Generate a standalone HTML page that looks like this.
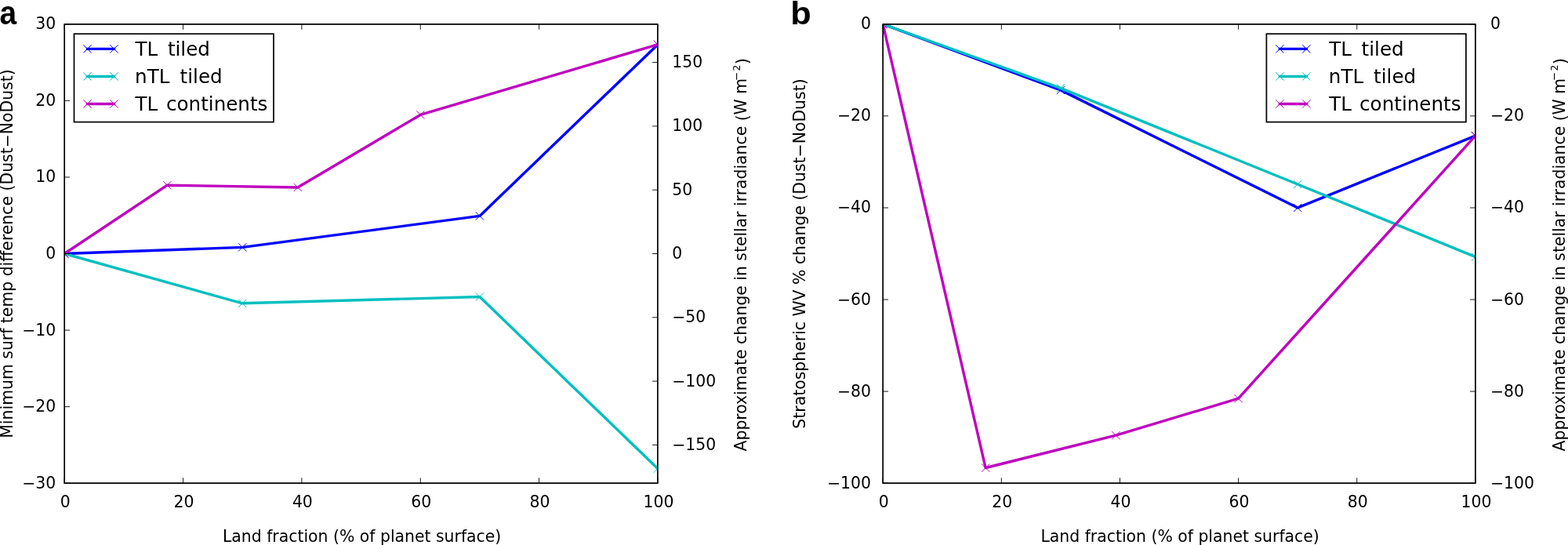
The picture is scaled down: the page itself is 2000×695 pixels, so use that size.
<!DOCTYPE html>
<html><head><meta charset="utf-8"><title>Figure</title><style>
html,body{margin:0;padding:0;background:#fff;width:2000px;height:695px;overflow:hidden}
svg{display:block}
.t{font-family:"DejaVu Sans","Liberation Sans",sans-serif;font-size:20.4px;fill:#000}
.lg{font-family:"DejaVu Sans","Liberation Sans",sans-serif;font-size:24.6px;fill:#000;white-space:pre}
.pl{font-family:"Liberation Sans",Arial,sans-serif;font-weight:bold;font-size:41px;fill:#000}
</style></head><body>
<svg width="2000" height="695" viewBox="0 0 2000 695">
<rect width="2000" height="695" fill="#fff"/>
<clipPath id="clipa"><rect x="82.2" y="30.8" width="756.7" height="585.4"/></clipPath>
<g clip-path="url(#clipa)">
<path d="M82.2,323.5 L309.21,315.4 L611.89,275.4 L838.9,56.85" fill="none" stroke="#0000ff" stroke-width="3.43" stroke-linejoin="round" stroke-linecap="square"/>
<path d="M77.06,318.36L87.34,328.64M77.06,328.64L87.34,318.36M304.07,310.26L314.35,320.54M304.07,320.54L314.35,310.26M606.75,270.26L617.03,280.54M606.75,280.54L617.03,270.26M833.76,51.71L844.04,61.99M833.76,61.99L844.04,51.71" fill="none" stroke="#0000ff" stroke-width="1.0"/>
<path d="M82.2,323.5 L309.21,386.82 L611.89,378.53 L838.9,597.66" fill="none" stroke="#00bfbf" stroke-width="3.43" stroke-linejoin="round" stroke-linecap="square"/>
<path d="M77.06,318.36L87.34,328.64M77.06,328.64L87.34,318.36M304.07,381.68L314.35,391.96M304.07,391.96L314.35,381.68M606.75,373.39L617.03,383.67M606.75,383.67L617.03,373.39M833.76,592.52L844.04,602.8M833.76,602.8L844.04,592.52" fill="none" stroke="#00bfbf" stroke-width="1.0"/>
<path d="M82.2,323.5 L213.34,236.18 L379.81,239.01 L536.22,146.42 L838.9,56.85" fill="none" stroke="#bf00bf" stroke-width="3.43" stroke-linejoin="round" stroke-linecap="square"/>
<path d="M77.06,318.36L87.34,328.64M77.06,328.64L87.34,318.36M208.2,231.04L218.48,241.32M208.2,241.32L218.48,231.04M374.67,233.87L384.95,244.15M374.67,244.15L384.95,233.87M531.08,141.28L541.36,151.56M531.08,151.56L541.36,141.28M833.76,51.71L844.04,61.99M833.76,61.99L844.04,51.71" fill="none" stroke="#bf00bf" stroke-width="1.0"/>
</g>
<path d="M82.2,616.2v-6.86M82.2,30.8v6.86M233.54,616.2v-6.86M233.54,30.8v6.86M384.88,616.2v-6.86M384.88,30.8v6.86M536.22,616.2v-6.86M536.22,30.8v6.86M687.56,616.2v-6.86M687.56,30.8v6.86M838.9,616.2v-6.86M838.9,30.8v6.86M82.2,616.2h6.86M82.2,518.63h6.86M82.2,421.07h6.86M82.2,323.5h6.86M82.2,225.93h6.86M82.2,128.37h6.86M82.2,30.8h6.86M838.9,567.42h-6.86M838.9,486.11h-6.86M838.9,404.81h-6.86M838.9,323.5h-6.86M838.9,242.19h-6.86M838.9,160.89h-6.86M838.9,79.58h-6.86" stroke="#000" stroke-width="0.9" fill="none"/>
<rect x="82.2" y="30.8" width="756.7" height="585.4" fill="none" stroke="#000" stroke-width="1.7" stroke-linejoin="round"/>
<text class="t" x="83.2" y="646.6" text-anchor="middle">0</text>
<text class="t" x="234.54" y="646.6" text-anchor="middle">20</text>
<text class="t" x="385.88" y="646.6" text-anchor="middle">40</text>
<text class="t" x="537.22" y="646.6" text-anchor="middle">60</text>
<text class="t" x="688.56" y="646.6" text-anchor="middle">80</text>
<text class="t" x="839.9" y="646.6" text-anchor="middle">100</text>
<text class="t" x="71.2" y="622.7" text-anchor="end">−30</text>
<text class="t" x="71.2" y="525.13" text-anchor="end">−20</text>
<text class="t" x="71.2" y="427.57" text-anchor="end">−10</text>
<text class="t" x="71.2" y="330" text-anchor="end">0</text>
<text class="t" x="71.2" y="232.43" text-anchor="end">10</text>
<text class="t" x="71.2" y="134.87" text-anchor="end">20</text>
<text class="t" x="71.2" y="37.3" text-anchor="end">30</text>
<text class="t" x="857.2" y="573.92">−150</text>
<text class="t" x="857.2" y="492.61">−100</text>
<text class="t" x="857.2" y="411.31">−50</text>
<text class="t" x="857.2" y="330">0</text>
<text class="t" x="857.2" y="248.69">50</text>
<text class="t" x="857.2" y="167.39">100</text>
<text class="t" x="857.2" y="86.08">150</text>
<text class="t" x="461.65" y="691.3" text-anchor="middle">Land fraction (% of planet surface)</text>
<text class="t" transform="translate(15.6,323.5) rotate(-90)" text-anchor="middle">Minimum surf temp difference (Dust−NoDust)</text>
<text class="t" style="font-size:20.35px" transform="translate(952.3,324.7) rotate(-90)" text-anchor="middle">Approximate change in stellar irradiance <tspan dy="1.6">(</tspan><tspan dy="-1.6">W m</tspan><tspan dx="-3.15" dy="-8.5" font-size="13.6">−</tspan><tspan dx="1.4" font-size="12.4">2</tspan><tspan dx="0.55" dy="10.1">)</tspan></text>
<rect x="94.5" y="43.2" width="254.5" height="112.4" fill="#fff" stroke="#000" stroke-width="1.7"/>
<path d="M111.5,62.36H145.5" stroke="#0000ff" stroke-width="3.43" stroke-linecap="square"/>
<path d="M106.36,57.22L116.64,67.5M106.36,67.5L116.64,57.22M140.36,57.22L150.64,67.5M140.36,67.5L150.64,57.22" fill="none" stroke="#0000ff" stroke-width="1.0"/>
<text class="lg" x="172.5" y="71.2">TL</text>
<text class="lg" x="213.9" y="71.2">tiled</text>
<path d="M111.5,97.41H145.5" stroke="#00bfbf" stroke-width="3.43" stroke-linecap="square"/>
<path d="M106.36,92.27L116.64,102.55M106.36,102.55L116.64,92.27M140.36,92.27L150.64,102.55M140.36,102.55L150.64,92.27" fill="none" stroke="#00bfbf" stroke-width="1.0"/>
<text class="lg" x="172.1" y="106.2">nTL</text>
<text class="lg" x="229.6" y="106.2">tiled</text>
<path d="M111.5,132.46H145.5" stroke="#bf00bf" stroke-width="3.43" stroke-linecap="square"/>
<path d="M106.36,127.32L116.64,137.6M106.36,137.6L116.64,127.32M140.36,127.32L150.64,137.6M140.36,137.6L150.64,127.32" fill="none" stroke="#bf00bf" stroke-width="1.0"/>
<text class="lg" x="172.5" y="140.7">TL</text>
<text class="lg" x="212" y="140.7">continents</text>
<clipPath id="clipb"><rect x="1126.15" y="30.8" width="755.75" height="585.4"/></clipPath>
<g clip-path="url(#clipb)">
<path d="M1126.15,30.8 L1352.88,114.86 L1655.18,264.96 L1881.9,173.17" fill="none" stroke="#0000ff" stroke-width="3.43" stroke-linejoin="round" stroke-linecap="square"/>
<path d="M1121.01,25.66L1131.29,35.94M1121.01,35.94L1131.29,25.66M1347.73,109.72L1358.02,120M1347.73,120L1358.02,109.72M1650.04,259.82L1660.32,270.1M1650.04,270.1L1660.32,259.82M1876.76,168.03L1887.04,178.31M1876.76,178.31L1887.04,168.03" fill="none" stroke="#0000ff" stroke-width="1.0"/>
<path d="M1126.15,30.8 L1352.88,112.29 L1655.18,234.99 L1881.9,327.6" fill="none" stroke="#00bfbf" stroke-width="3.43" stroke-linejoin="round" stroke-linecap="square"/>
<path d="M1121.01,25.66L1131.29,35.94M1121.01,35.94L1131.29,25.66M1347.73,107.15L1358.02,117.43M1347.73,117.43L1358.02,107.15M1650.04,229.85L1660.32,240.13M1650.04,240.13L1660.32,229.85M1876.76,322.46L1887.04,332.74M1876.76,332.74L1887.04,322.46" fill="none" stroke="#00bfbf" stroke-width="1.0"/>
<path d="M1126.15,30.8 L1257.12,596.59 L1423.39,555.2 L1579.6,508.19 L1881.9,173.17" fill="none" stroke="#bf00bf" stroke-width="3.43" stroke-linejoin="round" stroke-linecap="square"/>
<path d="M1121.01,25.66L1131.29,35.94M1121.01,35.94L1131.29,25.66M1251.98,591.45L1262.26,601.73M1251.98,601.73L1262.26,591.45M1418.25,550.06L1428.53,560.34M1418.25,560.34L1428.53,550.06M1574.46,503.05L1584.74,513.33M1574.46,513.33L1584.74,503.05M1876.76,168.03L1887.04,178.31M1876.76,178.31L1887.04,168.03" fill="none" stroke="#bf00bf" stroke-width="1.0"/>
</g>
<path d="M1126.15,616.2v-6.86M1126.15,30.8v6.86M1277.3,616.2v-6.86M1277.3,30.8v6.86M1428.45,616.2v-6.86M1428.45,30.8v6.86M1579.6,616.2v-6.86M1579.6,30.8v6.86M1730.75,616.2v-6.86M1730.75,30.8v6.86M1881.9,616.2v-6.86M1881.9,30.8v6.86M1126.15,616.2h6.86M1126.15,499.12h6.86M1126.15,382.04h6.86M1126.15,264.96h6.86M1126.15,147.88h6.86M1126.15,30.8h6.86M1881.9,616.2h-6.86M1881.9,499.12h-6.86M1881.9,382.04h-6.86M1881.9,264.96h-6.86M1881.9,147.88h-6.86M1881.9,30.8h-6.86" stroke="#000" stroke-width="0.9" fill="none"/>
<rect x="1126.15" y="30.8" width="755.75" height="585.4" fill="none" stroke="#000" stroke-width="1.7" stroke-linejoin="round"/>
<text class="t" x="1127.15" y="646.6" text-anchor="middle">0</text>
<text class="t" x="1278.3" y="646.6" text-anchor="middle">20</text>
<text class="t" x="1429.45" y="646.6" text-anchor="middle">40</text>
<text class="t" x="1580.6" y="646.6" text-anchor="middle">60</text>
<text class="t" x="1731.75" y="646.6" text-anchor="middle">80</text>
<text class="t" x="1882.9" y="646.6" text-anchor="middle">100</text>
<text class="t" x="1111" y="622.7" text-anchor="end">−100</text>
<text class="t" x="1111" y="505.62" text-anchor="end">−80</text>
<text class="t" x="1111" y="388.54" text-anchor="end">−60</text>
<text class="t" x="1111" y="271.46" text-anchor="end">−40</text>
<text class="t" x="1111" y="154.38" text-anchor="end">−20</text>
<text class="t" x="1111" y="37.3" text-anchor="end">0</text>
<text class="t" x="1900.9" y="622.7">−100</text>
<text class="t" x="1900.9" y="505.62">−80</text>
<text class="t" x="1900.9" y="388.54">−60</text>
<text class="t" x="1900.9" y="271.46">−40</text>
<text class="t" x="1900.9" y="154.38">−20</text>
<text class="t" x="1900.9" y="37.3">0</text>
<text class="t" x="1505.12" y="691.3" text-anchor="middle">Land fraction (% of planet surface)</text>
<text class="t" transform="translate(1026.8,323.5) rotate(-90)" text-anchor="middle">Stratospheric WV % change (Dust−NoDust)</text>
<text class="t" style="font-size:20.35px" transform="translate(1995.5,324.7) rotate(-90)" text-anchor="middle">Approximate change in stellar irradiance <tspan dy="1.6">(</tspan><tspan dy="-1.6">W m</tspan><tspan dx="-3.15" dy="-8.5" font-size="13.6">−</tspan><tspan dx="1.4" font-size="12.4">2</tspan><tspan dx="0.55" dy="10.1">)</tspan></text>
<rect x="1615.4" y="43.2" width="254.5" height="112.4" fill="#fff" stroke="#000" stroke-width="1.7"/>
<path d="M1632.4,62.36H1666.4" stroke="#0000ff" stroke-width="3.43" stroke-linecap="square"/>
<path d="M1627.26,57.22L1637.54,67.5M1627.26,67.5L1637.54,57.22M1661.26,57.22L1671.54,67.5M1661.26,67.5L1671.54,57.22" fill="none" stroke="#0000ff" stroke-width="1.0"/>
<text class="lg" x="1695.2" y="71.2">TL</text>
<text class="lg" x="1736.6" y="71.2">tiled</text>
<path d="M1632.4,97.41H1666.4" stroke="#00bfbf" stroke-width="3.43" stroke-linecap="square"/>
<path d="M1627.26,92.27L1637.54,102.55M1627.26,102.55L1637.54,92.27M1661.26,92.27L1671.54,102.55M1661.26,102.55L1671.54,92.27" fill="none" stroke="#00bfbf" stroke-width="1.0"/>
<text class="lg" x="1694.8" y="106.2">nTL</text>
<text class="lg" x="1752.1" y="106.2">tiled</text>
<path d="M1632.4,132.46H1666.4" stroke="#bf00bf" stroke-width="3.43" stroke-linecap="square"/>
<path d="M1627.26,127.32L1637.54,137.6M1627.26,137.6L1637.54,127.32M1661.26,127.32L1671.54,137.6M1661.26,137.6L1671.54,127.32" fill="none" stroke="#bf00bf" stroke-width="1.0"/>
<text class="lg" x="1695.2" y="140.7">TL</text>
<text class="lg" x="1734.1" y="140.7">continents</text>
<text class="pl" style="font-size:41.9px" transform="translate(-0.5,30.5) scale(0.93,1)">a</text>
<text class="pl" style="font-size:41.0px" transform="translate(1008.2,30.5) scale(1.06,1)">b</text>
</svg>
</body></html>
